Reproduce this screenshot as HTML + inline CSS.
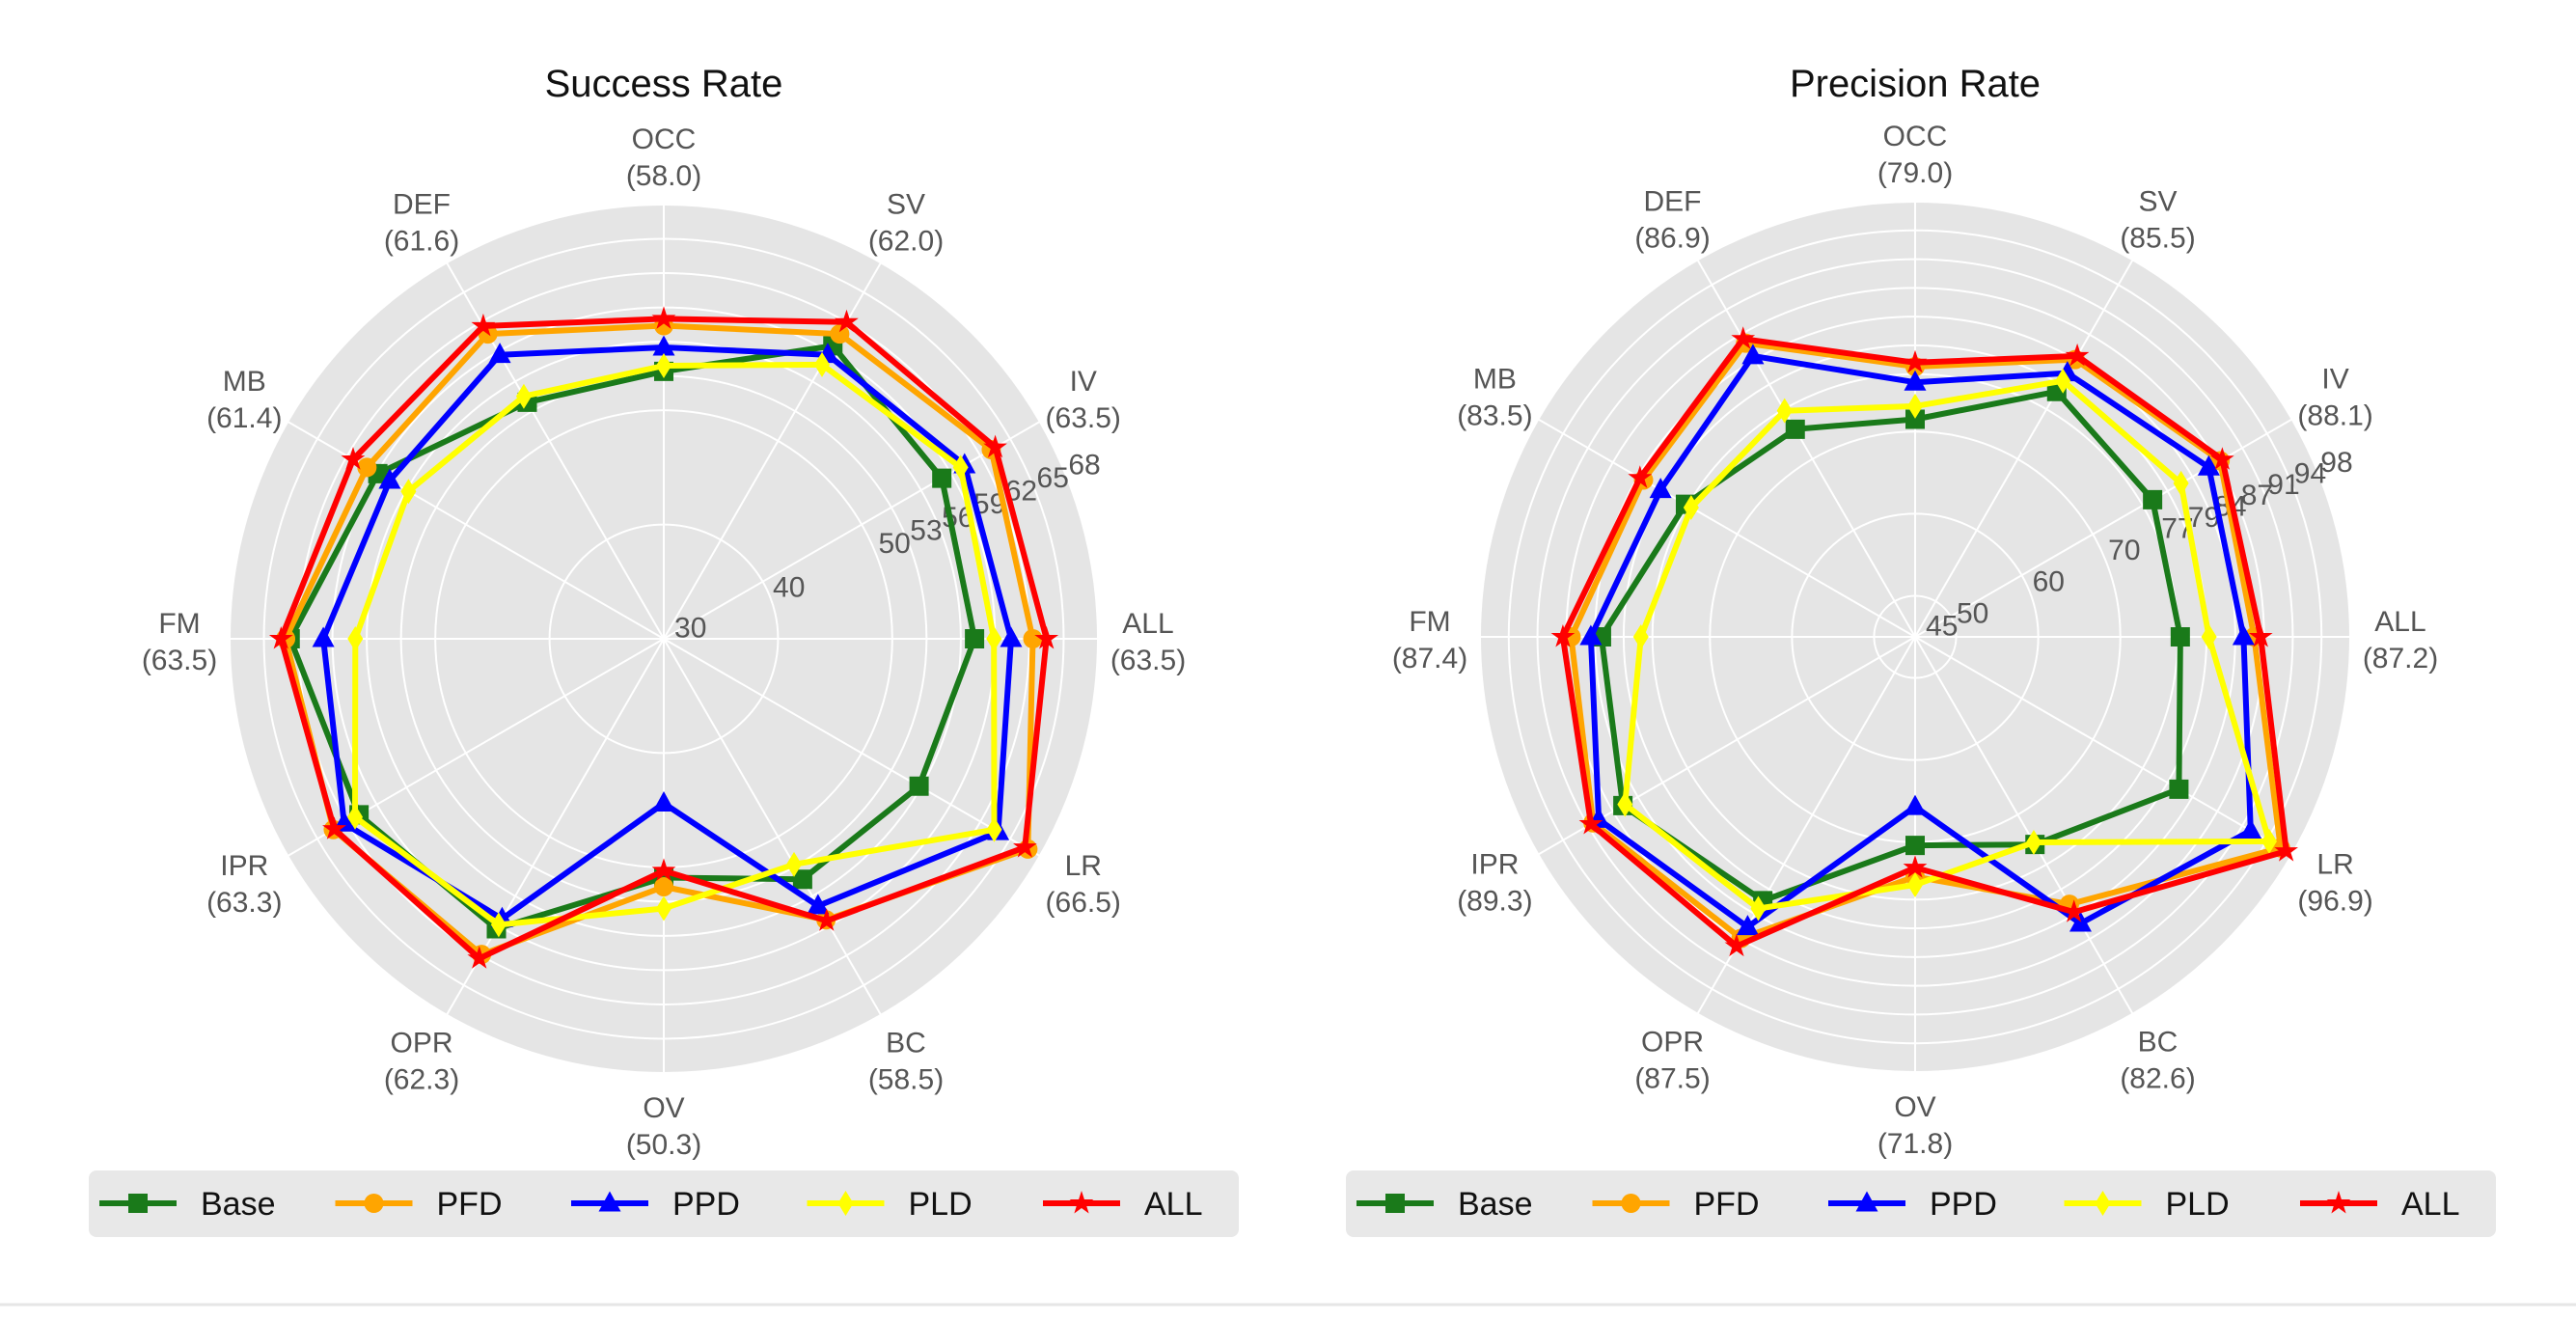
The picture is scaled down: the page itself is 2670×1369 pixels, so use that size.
<!DOCTYPE html>
<html><head><meta charset="utf-8"><style>
html,body{margin:0;padding:0;background:#fff;}
svg{display:block;font-family:"Liberation Sans","DejaVu Sans",sans-serif;}
</style></head><body>
<svg id="chart" width="2670" height="1369" viewBox="0 0 2670 1369" xmlns="http://www.w3.org/2000/svg">
<line x1="0" y1="1352" x2="2670" y2="1352" stroke="#e6e6e6" stroke-width="3"/>
</svg>
<script>
const categories = ["OCC","SV","IV","ALL","LR","BC","OV","OPR","IPR","FM","MB","DEF"];
const seriesNames = ["Base","PFD","PPD","PLD","ALL"];
const seriesColors = ["#1a7a1a","#ffa500","#0000ff","#ffff00","#ff0000"];
const seriesMarkers = ["square","circle","triangle","diamond","star"];

const successLabels = ["58.0","62.0","63.5","63.5","66.5","58.5","50.3","62.3","63.3","63.5","61.4","61.6"];
const successBase = [53.4,59.6,58.1,57.2,55.8,54.3,50.9,59.3,60.8,62.7,58.9,53.9];
const successPFD  = [57.4,60.8,63.1,62.3,66.8,58.4,51.7,61.9,63.4,63.1,60.0,60.8];
const successPPD  = [55.5,58.7,60.4,60.4,63.8,57.0,44.4,58.3,62.3,59.8,57.7,58.7];
const successPLD  = [53.9,57.7,60.0,58.9,63.4,52.8,53.6,58.9,61.2,57.0,55.8,54.5];
const successALL  = [58.0,62.0,63.5,63.5,66.5,58.5,50.3,62.3,63.3,63.5,61.4,61.6];
const successTicks = [30,40,50,53,56,59,62,65,68];
const successTickLabels = ["30","40","50","53","56","59","62","65","68"];
const successRange = [30,68];

const precisionLabels = ["79.0","85.5","88.1","87.2","96.9","82.6","71.8","87.5","89.3","87.4","83.5","86.9"];
const precisionBase = [71.5,79.5,78.4,77.3,82.1,74.2,70.4,82.1,86.1,83.2,77.3,74.2];
const precisionPFD  = [77.9,84.0,87.9,86.3,96.4,82.6,74.2,87.4,90.3,86.9,83.2,86.3];
const precisionPPD  = [76.0,82.1,86.3,85.0,92.2,85.3,65.7,85.8,89.5,84.5,80.8,84.5];
const precisionPLD  = [73.1,81.0,82.4,80.8,94.8,73.9,75.2,83.2,85.8,78.4,76.5,76.8];
const precisionALL  = [78.4,84.5,88.2,87.1,97.2,83.7,73.1,88.5,90.6,87.9,83.7,86.9];
const precisionTicks = [45,50,60,70,77,80.5,84,87.5,91,94.5,98];
const precisionTickLabels = ["45","50","60","70","77","79","84","87","91","94","98"];
const precisionRange = [45,98];

const NS="http://www.w3.org/2000/svg";
const svg=document.getElementById('chart');
function mk(tag,attrs,parent){const e=document.createElementNS(NS,tag);for(const k in attrs)e.setAttribute(k,attrs[k]);(parent||svg).appendChild(e);return e;}

function markerPath(type,x,y,s){
  if(type==='square')return `M${x-s},${y-s}H${x+s}V${y+s}H${x-s}Z`;
  if(type==='triangle')return `M${x},${y-s*1.25}L${x+s*1.15},${y+s*0.85}L${x-s*1.15},${y+s*0.85}Z`;
  if(type==='diamond')return `M${x},${y-s*1.3}L${x+s*0.8},${y}L${x},${y+s*1.3}L${x-s*0.8},${y}Z`;
  if(type==='star'){let d='';for(let i=0;i<10;i++){const r=i%2?s*0.5:s*1.3;const a=-Math.PI/2+i*Math.PI/5;d+=(i?'L':'M')+(x+r*Math.cos(a)).toFixed(1)+','+(y+r*Math.sin(a)).toFixed(1);}return d+'Z';}
  return null;
}
function drawMarker(g,type,x,y,s,color){
  let e;
  if(type==='circle'){e=mk('circle',{cx:x,cy:y,r:s,fill:color},g);}
  else {e=mk('path',{d:markerPath(type,x,y,s),fill:color},g);}
  return e;
}

function radar(prefix,cx,cy,R,title,range,ticks,tickLabels,labels,series){
  const g=mk('g',{});
  
  
  const rScale=v=>(v-range[0])/(range[1]-range[0])*R;
  const ang=i=>-Math.PI/2+i*2*Math.PI/categories.length;
  const bg=mk('circle',{cx:cx,cy:cy,r:R,fill:'#e5e5e5'},g);
  
  
  ticks.forEach((t,i)=>{
    if(t<=range[0])return;
    const c=mk('circle',{cx:cx,cy:cy,r:rScale(t),fill:'none',stroke:'#fff','stroke-width':2},g);
    
    
  });
  categories.forEach((c,i)=>{
    const a=ang(i);
    const l=mk('line',{x1:cx,y1:cy,x2:cx+R*Math.cos(a),y2:cy+R*Math.sin(a),stroke:'#fff','stroke-width':2},g);
    
    
  });
  // tick labels
  const ta=-22.5*Math.PI/180;
  ticks.forEach((t,i)=>{
    const r=rScale(t)+(t<=range[0]?30:22);
    const tx=mk('text',{x:cx+r*Math.cos(ta),y:cy+r*Math.sin(ta)+10,'font-size':30,fill:'#555','text-anchor':'middle'},g);
    tx.textContent=tickLabels[i];
    
    
  });
  // category labels
  categories.forEach((c,i)=>{
    const a=ang(i);const r=R+52;
    const x=cx+r*Math.cos(a),y=cy+r*Math.sin(a);
    const t1=mk('text',{x:x,y:y-6,'font-size':30,fill:'#555','text-anchor':'middle'},g);
    t1.textContent=c;
    
    
    const t2=mk('text',{x:x,y:y+32,'font-size':30,fill:'#555','text-anchor':'middle'},g);
    t2.textContent='('+labels[i]+')';
    
    
  });
  // series
  series.forEach((vals,si)=>{
    const sg=mk('g',{},g);
    
    
    const pts=vals.map((v,i)=>{const a=ang(i);const r=rScale(v);return [cx+r*Math.cos(a),cy+r*Math.sin(a)];});
    const poly=mk('polygon',{points:pts.map(p=>p[0].toFixed(1)+','+p[1].toFixed(1)).join(' '),fill:'none',stroke:seriesColors[si],'stroke-width':6,'stroke-linejoin':'round'},sg);
    
    
    pts.forEach(p=>{
      const m=drawMarker(sg,seriesMarkers[si],p[0],p[1],10,seriesColors[si]);
      
      
    });
  });
  const tt=mk('text',{x:cx,y:100,'font-size':40,fill:'#111','text-anchor':'middle'},g);
  tt.textContent=title;
  
  
}

function legend(prefix,x0){
  const g=mk('g',{});
  
  
  const r=mk('rect',{x:x0,y:1213,width:1192,height:69,rx:8,fill:'#e8e8e8'},g);
  
  
  seriesNames.forEach((n,i)=>{
    const eg=mk('g',{},g);
    
    
    const mx=x0+51+i*244.5;
    mk('line',{x1:mx-40,y1:1247,x2:mx+40,y2:1247,stroke:seriesColors[i],'stroke-width':6},eg);
    drawMarker(eg,seriesMarkers[i],mx,1247,10,seriesColors[i]);
    const t=mk('text',{x:mx+65,y:1259,'font-size':34,fill:'#111'},eg);
    t.textContent=n;
  });
}

radar('success',688,662,450,'Success Rate',successRange,successTicks,successTickLabels,successLabels,
  [successBase,successPFD,successPPD,successPLD,successALL]);
radar('precision',1985,660,451,'Precision Rate',precisionRange,precisionTicks,precisionTickLabels,precisionLabels,
  [precisionBase,precisionPFD,precisionPPD,precisionPLD,precisionALL]);
legend('success',92);
legend('precision',1395);
</script>
</body></html>
